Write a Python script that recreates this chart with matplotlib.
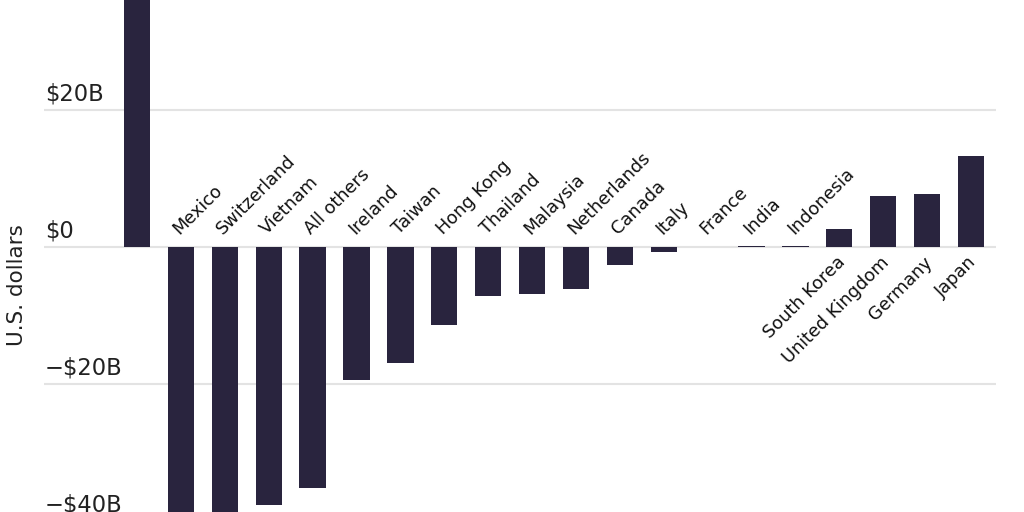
import matplotlib
matplotlib.use("Agg")
import matplotlib.pyplot as plt
import matplotlib.transforms as mtransforms

categories = ["China", "Mexico", "Switzerland", "Vietnam", "All others", "Ireland",
              "Taiwan", "Hong Kong", "Thailand", "Malaysia", "Netherlands", "Canada",
              "Italy", "France", "India", "Indonesia", "South Korea", "United Kingdom",
              "Germany", "Japan"]
values = [45.0, -42.0, -41.0, -37.7, -35.2, -19.4, -16.9, -11.4, -7.2, -6.9, -6.1, -2.7,
          -0.8, 0.0, 0.2, 0.2, 2.6, 7.4, 7.7, 13.3]
show_label = [False] + [True] * 19
tick_values = [20, 0, -20, -40]
tick_labels = ["$20B", "$0", "\u2212$20B", "\u2212$40B"]

bar_color = "#29243e"
grid_color = "#e3e3e3"
font = "DejaVu Sans"

fig = plt.figure(figsize=(10.24, 5.12), dpi=100)
ax = fig.add_axes([44 / 1024, 0, (996 - 44) / 1024, 1])
ax.set_xlim(-2.12, 19.57)
ax.set_ylim(-38.7, 36.06)
for s in ax.spines.values():
    s.set_visible(False)
ax.set_xticks([])
ax.set_yticks([])

for tv in tick_values:
    ax.axhline(tv, color=grid_color, lw=1.5, zorder=0)

xs = list(range(len(categories)))
ax.bar(xs, values, width=0.6, color=bar_color, zorder=2)

trans = mtransforms.blended_transform_factory(ax.transAxes, ax.transData)
for tv, tl in zip(tick_values, tick_labels):
    ax.text(0.001, tv + 0.6, tl, transform=trans, ha="left", va="bottom",
            fontsize=16.3, color="#222222", family=font)

for x, v, c, show in zip(xs, values, categories, show_label):
    if not show:
        continue
    if v < 1:
        ax.text(x + 0.03, 1.3, c, rotation=45, rotation_mode="anchor",
                ha="left", va="bottom", fontsize=12.8, color="#111111", family=font)
    else:
        ax.text(x - 0.08, -0.9, c, rotation=45, rotation_mode="anchor",
                ha="right", va="top", fontsize=12.8, color="#111111", family=font)

fig.text(17 / 1024, 1 - 285 / 512, "U.S. dollars", rotation=90, ha="center", va="center",
         fontsize=15.5, color="#222222", family=font)

fig.savefig("out.png", dpi=100)
